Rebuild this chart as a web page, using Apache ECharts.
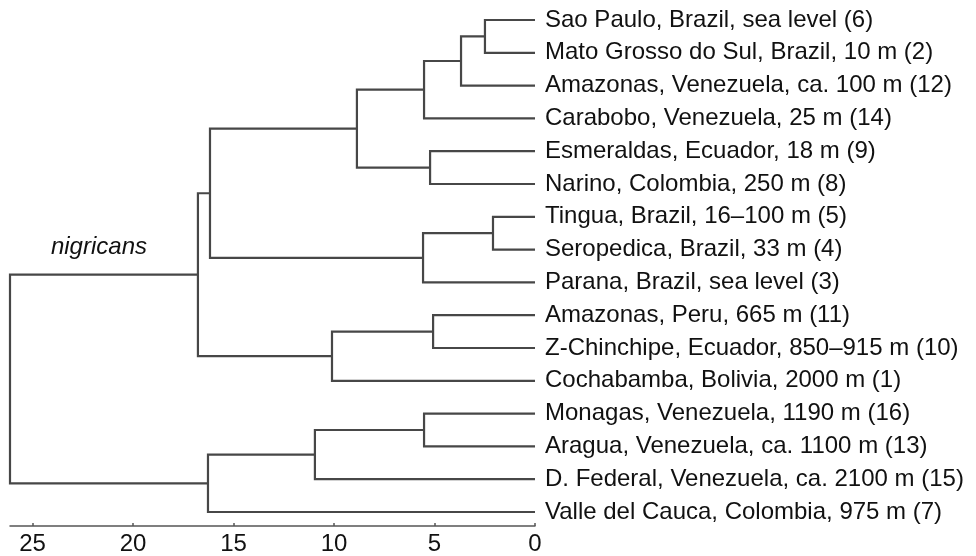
<!DOCTYPE html>
<html>
<head>
<meta charset="utf-8">
<script src="https://cdn.jsdelivr.net/npm/echarts@6/dist/echarts.min.js"></script>
<style>html,body{margin:0;padding:0;background:#fff}#c{width:976px;height:556px}</style>
</head>
<body>
<div id="c"></div>
<script>
// Leaves, top to bottom
var leaves = [
  'Sao Paulo, Brazil, sea level (6)',
  'Mato Grosso do Sul, Brazil, 10 m (2)',
  'Amazonas, Venezuela, ca. 100 m (12)',
  'Carabobo, Venezuela, 25 m (14)',
  'Esmeraldas, Ecuador, 18 m (9)',
  'Narino, Colombia, 250 m (8)',
  'Tingua, Brazil, 16\u2013100 m (5)',
  'Seropedica, Brazil, 33 m (4)',
  'Parana, Brazil, sea level (3)',
  'Amazonas, Peru, 665 m (11)',
  'Z-Chinchipe, Ecuador, 850\u2013915 m (10)',
  'Cochabamba, Bolivia, 2000 m (1)',
  'Monagas, Venezuela, 1190 m (16)',
  'Aragua, Venezuela, ca. 1100 m (13)',
  'D. Federal, Venezuela, ca. 2100 m (15)',
  'Valle del Cauca, Colombia, 975 m (7)'
];
// Merges in order; children 0..15 are leaves, 16+k is the node made by merge k
var mergeA =      [0,    16,   17,   4,    18,   6,    21,   20,    9,    24,    23,    12,   27,    28,    26];
var mergeB =      [1,    2,    3,    5,    19,   7,    8,    22,    10,   11,    25,    13,   14,    15,    29];
var mergeHeight = [2.49, 3.68, 5.52, 5.22, 8.86, 2.09, 5.57, 16.17, 5.07, 10.10, 16.77, 5.52, 10.95, 16.27, 26.12];
var xTicks = [0, 5, 10, 15, 20, 25];
var cladeLabel = 'nigricans';
var cladeNode = 26;

var nodeX = [], nodeY = [];
for (var i = 0; i < leaves.length; i++) { nodeX.push(0); nodeY.push(i); }
var links = [];
for (var k = 0; k < mergeA.length; k++) {
  var a = mergeA[k], b = mergeB[k], h = mergeHeight[k];
  links.push({coords: [[nodeX[a], nodeY[a]], [h, nodeY[a]], [h, nodeY[b]], [nodeX[b], nodeY[b]]]});
  nodeX.push(h); nodeY.push((nodeY[a] + nodeY[b]) / 2);
}
var rootIdx = nodeX.length - 1;
var cladePoint = [(nodeX[rootIdx] + nodeX[cladeNode]) / 2, nodeY[cladeNode]];

var FONT = '"Liberation Sans", Arial, Helvetica, sans-serif';
var chart = echarts.init(document.getElementById('c'), null, {renderer: 'canvas'});
chart.setOption({
  animation: false,
  backgroundColor: '#fff',
  grid: {left: 10, right: 441, top: 20, bottom: 44},
  xAxis: {
    type: 'value', inverse: true, position: 'bottom', min: 0, max: mergeHeight[mergeHeight.length - 1],
    offset: 14,
    axisLine: {show: true, onZero: false, lineStyle: {color: '#555', width: 1.5}},
    axisTick: {show: true, inside: true, length: 3, customValues: xTicks, lineStyle: {color: '#555', width: 1.5}},
    axisLabel: {show: true, customValues: xTicks, margin: 6, fontSize: 24, color: '#111', fontFamily: FONT},
    splitLine: {show: false}
  },
  yAxis: {
    type: 'value', inverse: true, min: 0, max: leaves.length - 1, interval: 1,
    position: 'right',
    axisLine: {show: false, onZero: false}, axisTick: {show: false}, splitLine: {show: false},
    axisLabel: {
      show: true, margin: 10, fontSize: 24, color: '#111', fontFamily: FONT,
      formatter: function (v) { return leaves[Math.round(v)] || ''; }
    }
  },
  series: [
    {
      type: 'lines', coordinateSystem: 'cartesian2d', polyline: true, silent: true,
      lineStyle: {color: '#474747', width: 2.2, opacity: 1},
      data: links
    },
    {
      type: 'scatter', symbolSize: 0, silent: true,
      itemStyle: {opacity: 1},
      data: [{value: cladePoint, name: cladeLabel}],
      label: {
        show: true, position: 'top', distance: 15, offset: [-5, 0], formatter: '{b}',
        fontSize: 24, fontStyle: 'italic', color: '#111', opacity: 1, fontFamily: FONT
      }
    }
  ]
});
</script>
</body>
</html>
